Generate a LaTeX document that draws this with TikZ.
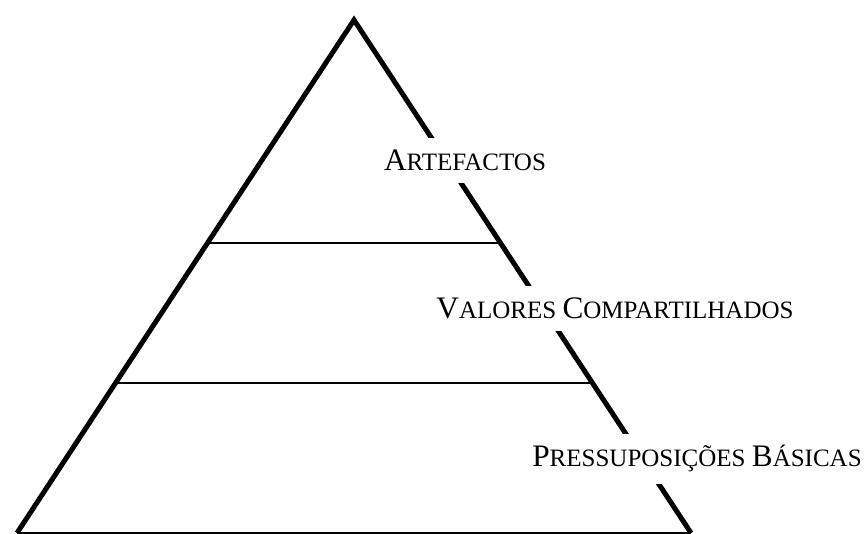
\documentclass[tikz,border=0pt]{standalone}
\usepackage{fontspec}
\setmainfont{Liberation Serif}
\usepackage{tikz}
\usetikzlibrary{calc,positioning}
\newcommand{\bigsc}{\fontsize{31.3}{36}\selectfont}
\newcommand{\smallsc}{\fontsize{25}{30}\selectfont}

\begin{document}
\begin{tikzpicture}[x=1pt,y=-1pt]
  \useasboundingbox (0,0) rectangle (865,534);
  \coordinate (top) at (354,20);
  \coordinate (bl) at (17,533);
  \coordinate (br) at (691,533);
  \coordinate (l1) at ($(top)!0.4347!(bl)$);
  \coordinate (r1) at ($(top)!0.4347!(br)$);
  \coordinate (l2) at ($(top)!0.7076!(bl)$);
  \coordinate (r2) at ($(top)!0.7076!(br)$);
  \draw[line width=5pt,line join=miter] (bl) -- (top) -- (br);
  \draw[line width=1.5pt] (bl) -- (br);
  \draw[line width=1.2pt] (l1) -- (r1);
  \draw[line width=1.2pt] (l2) -- (r2);
  \node[fill=white,inner xsep=4pt,inner ysep=12pt,anchor=base] (art) at (465,171)
    {\bigsc A\smallsc RTEFACTOS};
  \node[fill=white,inner xsep=4pt,inner ysep=12pt,anchor=base] (val) at (615,319)
    {\bigsc V\smallsc ALORES \bigsc C\smallsc OMPARTILHADOS};
  \node[fill=white,inner xsep=4pt,inner ysep=12pt,anchor=base] (pre) at (697,467)
    {\bigsc P\smallsc RESSUPOSIÇÕES \bigsc B\smallsc ÁSICAS};
\end{tikzpicture}
\end{document}
